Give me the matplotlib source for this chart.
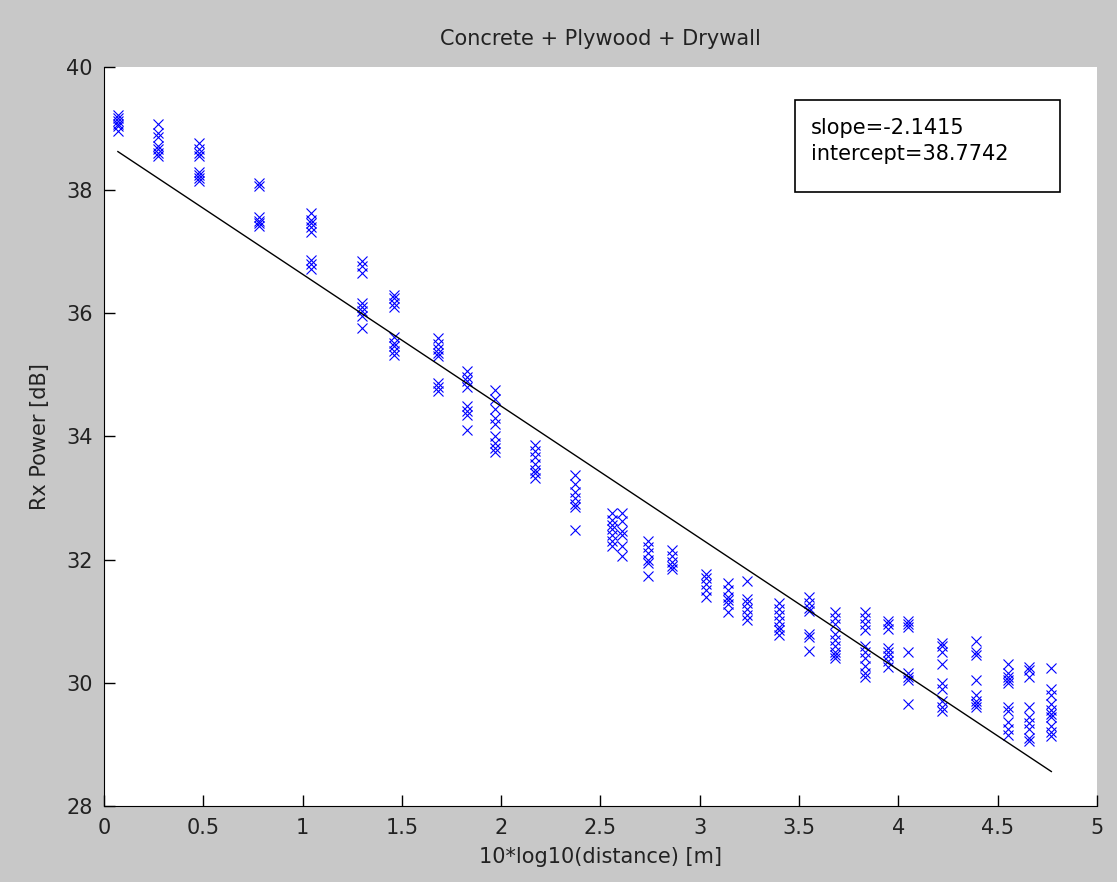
import matplotlib.pyplot as plt
from matplotlib.patches import Rectangle
import numpy as np

plt.rcParams['font.family'] = ['DejaVu Sans']

# x positions of measurement groups, 10*log10(distance)
x_pos = [0.07, 0.27, 0.48, 0.78, 1.04, 1.30, 1.46, 1.68, 1.83, 1.97,
         2.17, 2.37, 2.56, 2.61, 2.74, 2.86, 3.03, 3.14, 3.24, 3.40,
         3.55, 3.68, 3.83, 3.95, 4.05, 4.22, 4.39, 4.55, 4.66, 4.77]

# received power samples at each position [dB]
rx_power = [
    [39.22, 39.17, 39.12, 39.08, 39.04, 38.96],
    [39.08, 38.92, 38.86, 38.72, 38.66, 38.60, 38.55],
    [38.76, 38.66, 38.60, 38.55, 38.30, 38.25, 38.20, 38.15],
    [38.12, 38.06, 37.56, 37.50, 37.46, 37.42],
    [37.62, 37.52, 37.46, 37.40, 37.32, 36.86, 36.80, 36.72],
    [36.85, 36.76, 36.66, 36.16, 36.10, 36.04, 35.95, 35.76],
    [36.30, 36.24, 36.16, 36.10, 35.62, 35.52, 35.46, 35.38, 35.32],
    [35.60, 35.50, 35.42, 35.36, 35.30, 34.86, 34.80, 34.74],
    [35.06, 34.96, 34.90, 34.80, 34.50, 34.42, 34.35, 34.10],
    [34.75, 34.60, 34.45, 34.30, 34.20, 34.00, 33.90, 33.82, 33.74],
    [33.86, 33.76, 33.66, 33.56, 33.46, 33.40, 33.32],
    [33.38, 33.22, 33.10, 33.00, 32.90, 32.85, 32.48],
    [32.75, 32.65, 32.56, 32.50, 32.40, 32.30, 32.22],
    [32.76, 32.62, 32.46, 32.40, 32.22, 32.06],
    [32.30, 32.20, 32.10, 32.00, 31.95, 31.74],
    [32.15, 32.06, 31.96, 31.90, 31.85],
    [31.76, 31.70, 31.60, 31.50, 31.40],
    [31.62, 31.50, 31.40, 31.35, 31.28, 31.15],
    [31.66, 31.36, 31.30, 31.20, 31.10, 31.02],
    [31.30, 31.20, 31.10, 31.00, 30.90, 30.85, 30.78],
    [31.40, 31.30, 31.22, 31.16, 30.80, 30.74, 30.52],
    [31.15, 31.05, 30.95, 30.80, 30.70, 30.60, 30.50, 30.45, 30.40],
    [31.15, 31.05, 30.95, 30.85, 30.60, 30.50, 30.40, 30.28, 30.16, 30.10],
    [31.00, 30.95, 30.88, 30.56, 30.50, 30.44, 30.36, 30.26],
    [31.00, 30.95, 30.90, 30.50, 30.16, 30.10, 30.05, 29.65],
    [30.65, 30.60, 30.50, 30.30, 30.00, 29.90, 29.70, 29.60, 29.55],
    [30.68, 30.50, 30.45, 30.05, 29.80, 29.70, 29.65, 29.60],
    [30.30, 30.16, 30.10, 30.05, 30.00, 29.60, 29.55, 29.36, 29.25, 29.16],
    [30.26, 30.20, 30.10, 29.60, 29.45, 29.35, 29.25, 29.10, 29.05],
    [30.24, 29.90, 29.80, 29.66, 29.56, 29.50, 29.44, 29.30, 29.20, 29.14],
]

slope = -2.1415
intercept = 38.7742

fig = plt.figure(figsize=(11.17, 8.82), dpi=100, facecolor='#c8c8c8')
ax = fig.add_axes([0.0931, 0.0862, 0.889, 0.838])

for xp, ys in zip(x_pos, rx_power):
    ax.plot([xp] * len(ys), ys, 'x', color='#0000ff', markersize=6.5, markeredgewidth=0.8)

xfit = np.array([x_pos[0], x_pos[-1]])
ax.plot(xfit, slope * xfit + intercept, color='black', linewidth=1)

ax.set_xlim(0, 5)
ax.set_ylim(28, 40)
ax.set_xticks(np.arange(0, 5.01, 0.5))
ax.set_xticklabels(['0', '0.5', '1', '1.5', '2', '2.5', '3', '3.5', '4', '4.5', '5'])
ax.set_yticks(np.arange(28, 40.1, 2))
ax.spines['top'].set_visible(False)
ax.spines['right'].set_visible(False)
ax.tick_params(direction='in', length=8, width=1, labelsize=15, labelcolor='#222222')
ax.tick_params(axis='x', pad=9)
ax.tick_params(axis='y', pad=8)

ax.set_title('Concrete + Plywood + Drywall', fontsize=15, pad=16, color='#222222')
ax.set_xlabel('10*log10(distance) [m]', fontsize=15, labelpad=6, color='#222222')
ax.set_ylabel('Rx Power [dB]', fontsize=15, labelpad=12, color='#222222')

# annotation box with fit results
ax.add_patch(Rectangle((0.696, 0.831), 0.267, 0.124, transform=ax.transAxes,
                       facecolor='white', edgecolor='black', linewidth=1.2, zorder=5))
ax.text(0.712, 0.917, 'slope=%.4f' % slope, transform=ax.transAxes,
        fontsize=15, va='center', ha='left', zorder=6)
ax.text(0.712, 0.882, 'intercept=%.4f' % intercept, transform=ax.transAxes,
        fontsize=15, va='center', ha='left', zorder=6)

plt.savefig('out.png', dpi=100, facecolor=fig.get_facecolor())
